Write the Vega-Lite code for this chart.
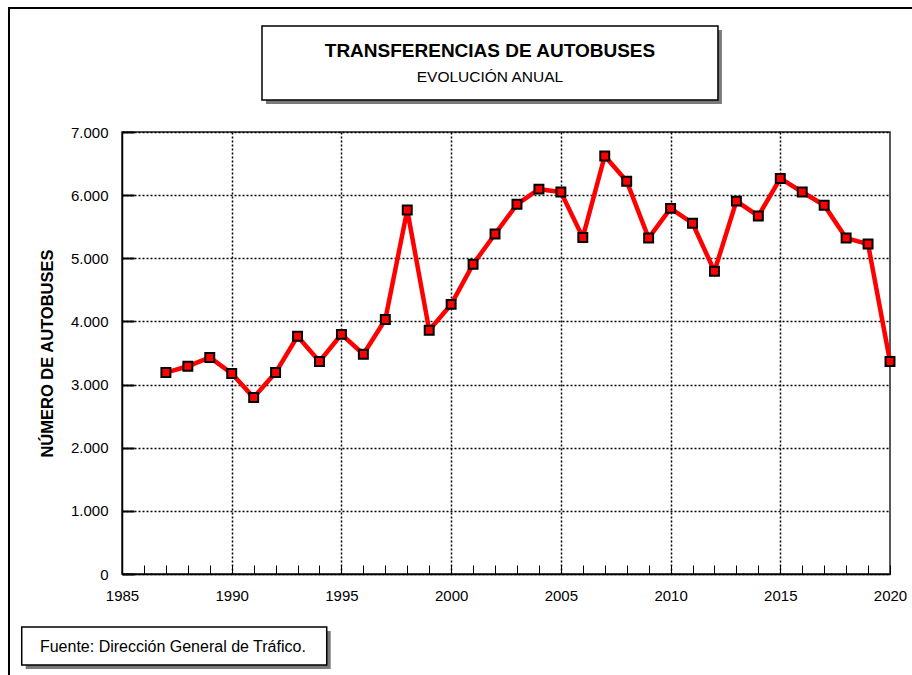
{
  "$schema": "https://vega.github.io/schema/vega-lite/v6.json",
  "width": 768,
  "height": 442,
  "autosize": {"type": "none"},
  "padding": {"left": 122, "top": 132, "right": 22, "bottom": 101},
  "background": "white",
  "config": {
    "font": "Liberation Sans",
    "view": {"stroke": "#222222", "strokeWidth": 1.5},
    "locale": {"number": {"decimal": ",", "thousands": ".", "grouping": [3], "currency": ["", " €"]}}
  },
  "datasets": {
    "transferencias": [
      {"year": 1987, "value": 3190},
      {"year": 1988, "value": 3290},
      {"year": 1989, "value": 3430},
      {"year": 1990, "value": 3175},
      {"year": 1991, "value": 2795},
      {"year": 1992, "value": 3190},
      {"year": 1993, "value": 3765},
      {"year": 1994, "value": 3365},
      {"year": 1995, "value": 3795},
      {"year": 1996, "value": 3480},
      {"year": 1997, "value": 4030},
      {"year": 1998, "value": 5765},
      {"year": 1999, "value": 3860},
      {"year": 2000, "value": 4270},
      {"year": 2001, "value": 4905},
      {"year": 2002, "value": 5385},
      {"year": 2003, "value": 5855},
      {"year": 2004, "value": 6095},
      {"year": 2005, "value": 6050},
      {"year": 2006, "value": 5330},
      {"year": 2007, "value": 6620},
      {"year": 2008, "value": 6220},
      {"year": 2009, "value": 5320},
      {"year": 2010, "value": 5790},
      {"year": 2011, "value": 5555},
      {"year": 2012, "value": 4795},
      {"year": 2013, "value": 5905},
      {"year": 2014, "value": 5670},
      {"year": 2015, "value": 6265},
      {"year": 2016, "value": 6050},
      {"year": 2017, "value": 5840},
      {"year": 2018, "value": 5320},
      {"year": 2019, "value": 5225},
      {"year": 2020, "value": 3365}
    ]
  },
  "layer": [
    {
      "data": {"name": "transferencias"},
      "mark": {"type": "line", "color": "#ff0000", "strokeWidth": 4.5},
      "encoding": {
        "x": {
          "field": "year",
          "type": "quantitative",
          "scale": {"domain": [1985, 2020], "nice": false, "zero": false},
          "axis": {
            "title": null,
            "values": [1985,1986,1987,1988,1989,1990,1991,1992,1993,1994,1995,1996,1997,1998,1999,2000,2001,2002,2003,2004,2005,2006,2007,2008,2009,2010,2011,2012,2013,2014,2015,2016,2017,2018,2019,2020],
            "tickCount": 60,
            "format": "d",
            "labelExpr": "datum.value % 5 == 0 ? datum.label : ''",
            "labelFontSize": 15,
            "labelColor": "black",
            "labelPadding": 23,
            "labelFlush": false,
            "labelOverlap": false,
            "tickSize": -9,
            "tickColor": "black",
            "tickWidth": 1,
            "domainColor": "black",
            "domainWidth": 1.5,
            "grid": true,
            "gridColor": "black",
            "gridDash": [2, 2],
            "gridWidth": 1.5,
            "gridOpacity": {"condition": {"test": "datum.value % 5 == 0 && datum.value > 1985 && datum.value < 2020", "value": 1}, "value": 0}
          }
        },
        "y": {
          "field": "value",
          "type": "quantitative",
          "scale": {"domain": [0, 7000], "nice": false},
          "axis": {
            "title": "NÚMERO DE AUTOBUSES",
            "titleFontSize": 16.5,
            "titleFontWeight": "bold",
            "titleColor": "black",
            "titlePadding": 15,
            "values": [0, 1000, 2000, 3000, 4000, 5000, 6000, 7000],
            "tickCount": 20,
            "format": ",d",
            "labelFontSize": 15,
            "labelColor": "black",
            "labelPadding": 26,
            "tickSize": -12,
            "tickColor": "black",
            "tickWidth": 2,
            "domainColor": "black",
            "domainWidth": 1.5,
            "grid": true,
            "gridColor": "black",
            "gridDash": [2, 2],
            "gridWidth": 1.5
          }
        }
      }
    },
    {
      "data": {"values": [{}]},
      "mark": {"type": "rect", "filled": false, "stroke": "black", "strokeWidth": 2, "clip": false},
      "encoding": {
        "x": {"datum": 1979.85, "type": "quantitative"},
        "x2": {"datum": 2030},
        "y": {"datum": 8964, "type": "quantitative"},
        "y2": {"datum": -3000}
      }
    },
    {
      "data": {"values": [{}]},
      "mark": {"type": "rect", "fill": "#7a7a7a", "clip": false},
      "encoding": {
        "x": {"datum": 1991.56, "type": "quantitative"},
        "x2": {"datum": 2012.34},
        "y": {"datum": 8616, "type": "quantitative"},
        "y2": {"datum": 7443}
      }
    },
    {
      "data": {"values": [{}]},
      "mark": {"type": "rect", "fill": "white", "stroke": "black", "strokeWidth": 1.5, "clip": false},
      "encoding": {
        "x": {"datum": 1991.38, "type": "quantitative"},
        "x2": {"datum": 2012.16},
        "y": {"datum": 8679, "type": "quantitative"},
        "y2": {"datum": 7507}
      }
    },
    {
      "data": {"values": [{}]},
      "mark": {"type": "text", "text": "TRANSFERENCIAS DE AUTOBUSES", "align": "center", "baseline": "middle", "fontSize": 19, "fontWeight": "bold", "color": "black", "clip": false},
      "encoding": {
        "x": {"datum": 2001.77, "type": "quantitative"},
        "y": {"datum": 8290, "type": "quantitative"}
      }
    },
    {
      "data": {"values": [{}]},
      "mark": {"type": "text", "text": "EVOLUCIÓN ANUAL", "align": "center", "baseline": "middle", "fontSize": 15.5, "color": "black", "clip": false},
      "encoding": {
        "x": {"datum": 2001.77, "type": "quantitative"},
        "y": {"datum": 7875, "type": "quantitative"}
      }
    },
    {
      "data": {"values": [{}]},
      "mark": {"type": "rect", "fill": "#7a7a7a", "clip": false},
      "encoding": {
        "x": {"datum": 1980.61, "type": "quantitative"},
        "x2": {"datum": 1994.51},
        "y": {"datum": -903, "type": "quantitative"},
        "y2": {"datum": -1504}
      }
    },
    {
      "data": {"values": [{}]},
      "mark": {"type": "rect", "fill": "white", "stroke": "black", "strokeWidth": 1.5, "clip": false},
      "encoding": {
        "x": {"datum": 1980.43, "type": "quantitative"},
        "x2": {"datum": 1994.33},
        "y": {"datum": -839, "type": "quantitative"},
        "y2": {"datum": -1441}
      }
    },
    {
      "data": {"values": [{}]},
      "mark": {"type": "text", "text": "Fuente: Dirección General de Tráfico.", "align": "left", "baseline": "middle", "fontSize": 16, "color": "black", "clip": false},
      "encoding": {
        "x": {"datum": 1981.26, "type": "quantitative"},
        "y": {"datum": -1164, "type": "quantitative"}
      }
    },
    {
      "data": {"name": "transferencias"},
      "mark": {"type": "point", "shape": "square", "filled": true, "fill": "#ff0000", "stroke": "black", "strokeWidth": 2, "size": 80, "opacity": 1},
      "encoding": {
        "x": {"field": "year", "type": "quantitative"},
        "y": {"field": "value", "type": "quantitative"}
      }
    }
  ]
}
